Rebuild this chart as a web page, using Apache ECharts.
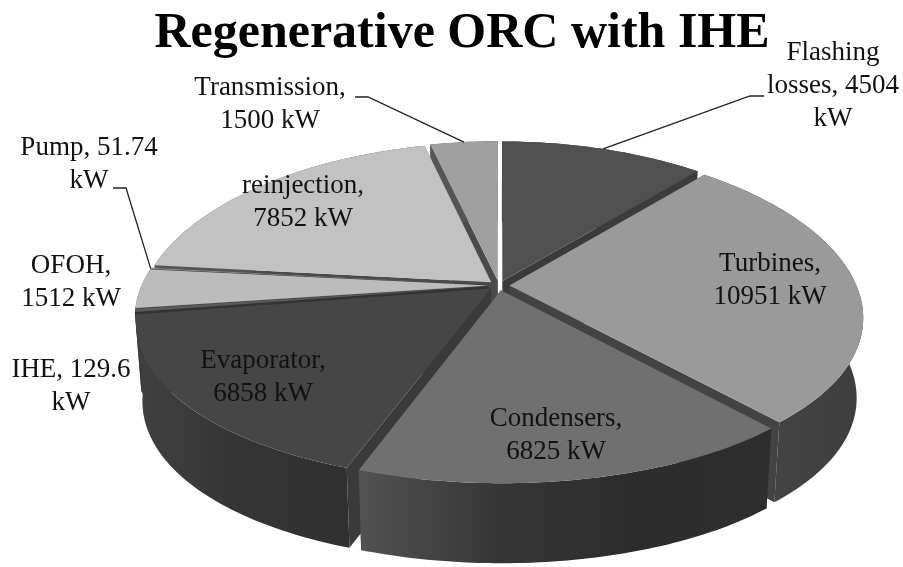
<!DOCTYPE html>
<html>
<head>
<meta charset="utf-8">
<style>html,body{margin:0;padding:0;background:#fff}#c{width:903px;height:567px}</style>
<script src="https://cdn.jsdelivr.net/npm/echarts@6/dist/echarts.min.js"></script>
</head>
<body>
<div id="c"></div>
<script>
const titleText = 'Regenerative ORC with IHE';
const names = ['Flashing losses','Turbines','Condensers','Evaporator','IHE','OFOH','Pump','reinjection','Transmission'];
const values = [4504,10951,6825,6858,129.6,1512,51.74,7852,1500];
const labelTexts = ['Flashing\nlosses, 4504\nkW','Turbines,\n10951 kW','Condensers,\n6825 kW','Evaporator,\n6858 kW','IHE, 129.6\nkW','OFOH,\n1512 kW','Pump, 51.74\nkW','reinjection,\n7852 kW','Transmission,\n1500 kW'];
const topColors = ['#505050','#9a9a9a','#707070','#464646','#5a5a5a','#bcbcbc','#8a8a8a','#c2c2c2','#a0a0a0'];
const sideColors = [['#3c3c3c','#3c3c3c'],['#484848','#3e3e3e'],['#525252','#363636','#2c2c2c','#2e2e2e'],['#404040','#343434','#303030'],['#383838','#383838'],['#555','#555'],['#444','#444'],['#555','#555'],['#555','#555']];
const cutColors = ['#3a3a3a','#434343','#3a3a3a','#3a3a3a','#333','#555','#333','#4a4a4a','#4a4a4a'];
// label anchors: centre x, first-line centre y
const labelPos = [[833,53],[770,264],[556,419],[263,361],[71,370],[71,266],[89,148],[303,186],[270,88]];
// leader lines: elbow start points beside the label, end is found on the slice rim
const leaders = {0:[[764,96],[750,96]],8:[[355,97],[368,97]],6:[[113,188],[126,188]]};

const CX=499, CY=285.5, RX=347, RY=162, PX=0.19, PY=0.152, EXPLODE=0.03, DEPTH=80, SHRINK=0.982;
const total = values.reduce((a,b)=>a+b,0);
const rad = Math.PI/180;
let acc = 0;
const spans = values.map(v=>{const s=acc/total*360; acc+=v; return [s,acc/total*360];});

function proj(u,v){return [CX+RX*u/(1+PX*v), CY-RY*v/(1+PY*v)];}
function sliceGeom(i){
  const [s,e]=spans[i], m=(s+e)/2*rad;
  const ox=EXPLODE*Math.sin(m), oy=EXPLODE*Math.cos(m);
  const at=a=>proj(ox+Math.sin(a*rad),oy+Math.cos(a*rad));
  const arc=[]; const n=Math.max(2,Math.ceil(e-s));
  for(let k=0;k<=n;k++) arc.push(at(s+(e-s)*k/n));
  return {apex:proj(ox,oy),arc,at,mid:(s+e)/2};
}
const drop=p=>[CX+(p[0]-CX)*SHRINK,p[1]+DEPTH];
const midCos=i=>Math.cos((spans[i][0]+spans[i][1])/2*rad);
const order = names.map((_,i)=>i).sort((a,b)=>midCos(b)-midCos(a));

function renderSlice(params,api){
  const i=api.value(0), g=sliceGeom(i), kids=[];
  [g.arc[0],g.arc[g.arc.length-1]].forEach(p=>{
    kids.push({type:'polygon',shape:{points:[g.apex,p,drop(p),drop(g.apex)]},style:{fill:cutColors[i]}});
  });
  const stops=sideColors[i].map((c,k,a)=>({offset:k/(a.length-1),color:c}));
  kids.push({type:'polygon',shape:{points:g.arc.concat(g.arc.map(drop).reverse())},
    style:{fill:new echarts.graphic.LinearGradient(0,0,1,0,stops)}});
  kids.push({type:'polygon',shape:{points:[g.apex].concat(g.arc)},style:{fill:topColors[i]}});
  return {type:'group',children:kids};
}
function renderLabels(params,api){
  const i=api.value(0), kids=[];
  if(leaders[i]){
    const g=sliceGeom(i);
    kids.push({type:'polyline',shape:{points:leaders[i].concat([g.at(g.mid)])},style:{fill:'none',stroke:'#222',lineWidth:1.3}});
  }
  kids.push({type:'text',style:{text:labelTexts[i],x:labelPos[i][0],y:labelPos[i][1]-16.5,align:'center',verticalAlign:'top',
    font:'27px "Liberation Serif"',lineHeight:33,fill:'#111'}});
  return {type:'group',children:kids};
}
const chart=echarts.init(document.getElementById('c'),null,{renderer:'canvas'});
chart.setOption({
  animation:false,
  backgroundColor:'#fff',
  title:{text:titleText,left:457,top:4,textAlign:'center',textStyle:{fontFamily:'Liberation Serif',fontSize:50,fontWeight:'bold',color:'#000'}},
  xAxis:{show:false,min:0,max:1},yAxis:{show:false,min:0,max:1},
  grid:{left:0,right:0,top:0,bottom:0},
  series:[
    {type:'custom',name:'slices',coordinateSystem:'none',renderItem:renderSlice,data:order.map(i=>[i]),silent:true,z:1},
    {type:'custom',name:'labels',coordinateSystem:'none',renderItem:renderLabels,data:names.map((_,i)=>[i]),silent:true,z:2}
  ]
});
</script>
</body>
</html>
